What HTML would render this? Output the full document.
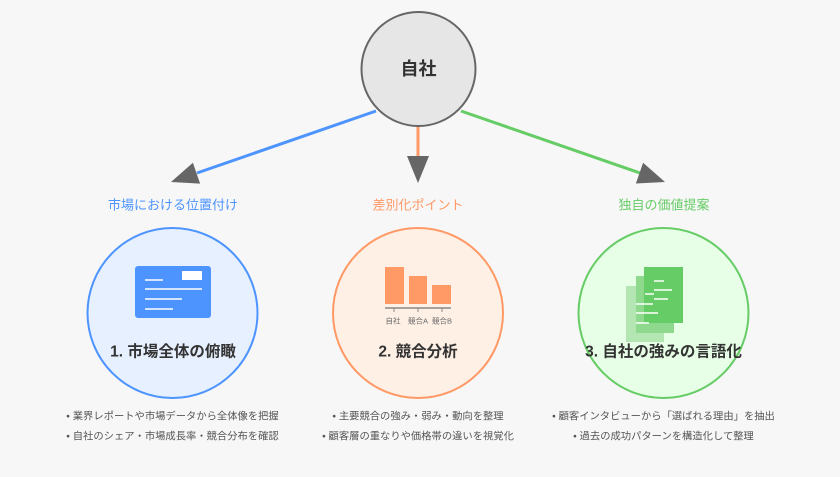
<!DOCTYPE html>
<html>
<head>
<meta charset="utf-8">
<style>
html,body{margin:0;padding:0;background:#f7f7f7;}
svg{display:block;}
text{font-family:"Liberation Sans","Noto Sans CJK JP",sans-serif;}
</style>
</head>
<body>
<svg width="840" height="477" viewBox="0 0 840 477" xmlns="http://www.w3.org/2000/svg">
<rect x="0" y="0" width="840" height="477" fill="#f7f7f7"/>

<!-- connectors -->
<line x1="376" y1="111" x2="197" y2="173" stroke="#4d94ff" stroke-width="3"/>
<polygon points="171,182 200.1,183.6 192.9,162.8" fill="#666"/>
<line x1="418" y1="126" x2="418" y2="157" stroke="#ff9966" stroke-width="3"/>
<polygon points="407,156 429,156 418,183" fill="#666"/>
<line x1="461" y1="111" x2="640" y2="173" stroke="#66cc66" stroke-width="3"/>
<polygon points="665,182 635.9,183.5 643.1,162.7" fill="#666"/>

<!-- center node -->
<circle cx="418.5" cy="69" r="57" fill="#e6e6e6" stroke="#666" stroke-width="2"/>
<text x="418.5" y="69" font-size="18" font-weight="bold" fill="#333" text-anchor="middle" dominant-baseline="central">自社</text>

<!-- labels -->
<text x="173" y="205" font-size="13" fill="#4d94ff" text-anchor="middle" dominant-baseline="central">市場における位置付け</text>
<text x="418" y="205" font-size="13" fill="#ff9966" text-anchor="middle" dominant-baseline="central">差別化ポイント</text>
<text x="664" y="205" font-size="13" fill="#66cc66" text-anchor="middle" dominant-baseline="central">独自の価値提案</text>

<!-- circles -->
<circle cx="172.5" cy="313" r="85" fill="#e6f0ff" stroke="#4d94ff" stroke-width="2"/>
<circle cx="418" cy="313" r="85" fill="#fff0e6" stroke="#ff9966" stroke-width="2"/>
<circle cx="663.5" cy="313" r="85" fill="#e6ffe6" stroke="#66cc66" stroke-width="2"/>

<!-- blue icon -->
<rect x="135" y="266" width="76" height="52" rx="3" fill="#4d94ff"/>
<rect x="182" y="271" width="20" height="9" fill="#fff"/>
<line x1="145" y1="280" x2="163" y2="280" stroke="#fff" stroke-width="1.5"/>
<line x1="145" y1="289" x2="202" y2="289" stroke="#fff" stroke-width="1.5"/>
<line x1="145" y1="299" x2="182" y2="299" stroke="#fff" stroke-width="1.5"/>
<line x1="145" y1="309" x2="173" y2="309" stroke="#fff" stroke-width="1.5"/>

<!-- orange chart -->
<rect x="385" y="267" width="19" height="37" fill="#ff9966"/>
<rect x="409" y="276" width="18" height="28" fill="#ff9966"/>
<rect x="432" y="285" width="19" height="19" fill="#ff9966"/>
<line x1="385" y1="308" x2="451" y2="308" stroke="#888" stroke-width="1.5"/>
<line x1="394" y1="308" x2="394" y2="312" stroke="#888" stroke-width="1"/>
<line x1="418" y1="308" x2="418" y2="312" stroke="#888" stroke-width="1"/>
<line x1="442" y1="308" x2="442" y2="312" stroke="#888" stroke-width="1"/>
<text x="393" y="321" font-size="7.5" fill="#666" text-anchor="middle" dominant-baseline="central">自社</text>
<text x="418" y="321" font-size="7.5" fill="#666" text-anchor="middle" dominant-baseline="central">競合A</text>
<text x="442" y="321" font-size="7.5" fill="#666" text-anchor="middle" dominant-baseline="central">競合B</text>

<!-- green docs -->
<rect x="626" y="286" width="38" height="56" fill="#b3e6b3"/>
<rect x="636" y="276" width="38" height="57" fill="#8fd98f"/>
<rect x="644" y="267" width="39" height="56" fill="#66cc66"/>
<line x1="654" y1="281" x2="664" y2="281" stroke="#fff" stroke-width="1.5"/>
<line x1="654" y1="290" x2="672" y2="290" stroke="#fff" stroke-width="1.5"/>
<line x1="645" y1="294" x2="654" y2="294" stroke="#fff" stroke-width="1.5"/>
<line x1="654" y1="299" x2="668" y2="299" stroke="#fff" stroke-width="1.5"/>
<line x1="636" y1="304" x2="653" y2="304" stroke="#fff" stroke-width="1.5"/>
<line x1="636" y1="313" x2="658" y2="313" stroke="#fff" stroke-width="1.5"/>
<line x1="636" y1="323" x2="649" y2="323" stroke="#fff" stroke-width="1.5"/>

<!-- titles -->
<text x="173" y="352" font-size="15.5" font-weight="bold" fill="#333" text-anchor="middle" dominant-baseline="central">1. 市場全体の俯瞰</text>
<text x="418" y="352" font-size="15.5" font-weight="bold" fill="#333" text-anchor="middle" dominant-baseline="central">2. 競合分析</text>
<text x="663.5" y="352" font-size="15.5" font-weight="bold" fill="#333" text-anchor="middle" dominant-baseline="central">3. 自社の強みの言語化</text>

<!-- bullets -->
<g font-size="10.3" fill="#555" text-anchor="middle" dominant-baseline="central">
<text x="172.5" y="417">• 業界レポートや市場データから全体像を把握</text>
<text x="172.5" y="437">• 自社のシェア・市場成長率・競合分布を確認</text>
<text x="418" y="417">• 主要競合の強み・弱み・動向を整理</text>
<text x="418" y="437">• 顧客層の重なりや価格帯の違いを視覚化</text>
<text x="663.5" y="417">• 顧客インタビューから「選ばれる理由」を抽出</text>
<text x="663.5" y="437">• 過去の成功パターンを構造化して整理</text>
</g>
</svg>
</body>
</html>
